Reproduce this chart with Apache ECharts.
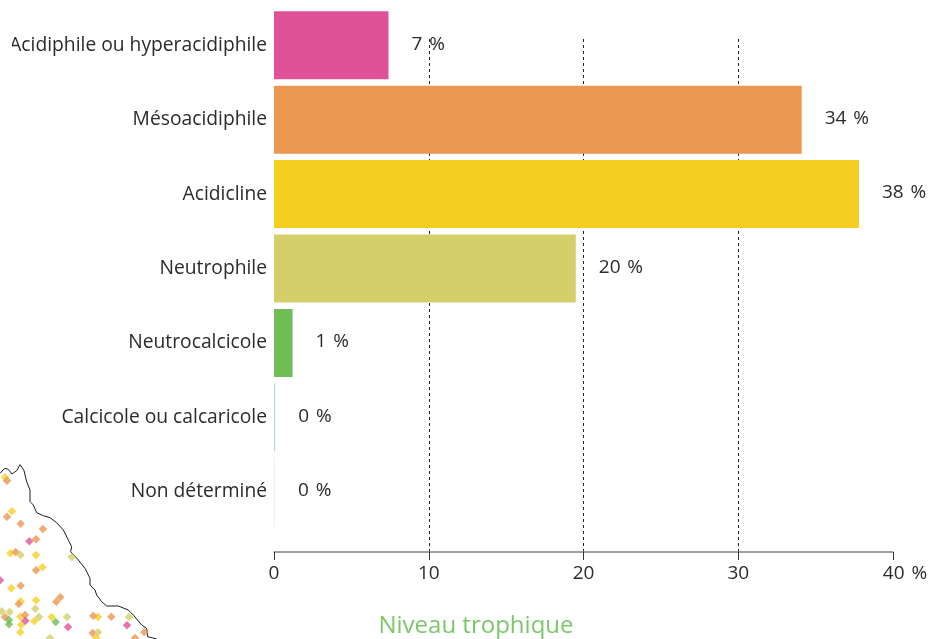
<!DOCTYPE html>
<html lang="fr">
<head>
<meta charset="utf-8">
<title>Niveau trophique</title>
<script src="https://cdn.jsdelivr.net/npm/echarts@6/dist/echarts.min.js"></script>
<style>html,body{margin:0;padding:0;background:#fff}#chart{width:944px;height:639px}</style>
</head>
<body>
<div id="chart"></div>
<script>
// Share of surveyed plots per soil-acidity class (%)
const categories = ['Acidiphile ou hyperacidiphile', 'Mésoacidiphile', 'Acidicline', 'Neutrophile', 'Neutrocalcicole', 'Calcicole ou calcaricole', 'Non déterminé'];
const shares = [7.4, 34.1, 37.8, 19.5, 1.2, 0.08, 0.06];
const classColors = ['#df5297', '#eb9751', '#f6ce21', '#d4cf6b', '#70bd55', '#b3e0d3', '#eef0f2'];

// Corner of the location map, in map units
const coastline = [[0,70],[14,55],[25,58],[36,72],[50,62],[60,44],[66,52],[72,62],[80,95],[90,120],[90,155],[100,165],[110,188],[130,197],[150,203],[170,218],[190,240],[205,270],[215,290],[212,305],[235,330],[255,355],[270,385],[270,405],[285,420],[290,435],[305,455],[320,468],[355,468],[385,480],[400,495],[425,525],[440,535],[443,560],[470,567]];
const plotsYellow = [[15,82],[36,184],[31,310],[108,315],[127,352],[34,415],[108,451],[62,454],[61,500],[155,501],[294,501],[64,524],[103,513],[61,547],[289,564],[-3,436]];
const plotsOrange = [[21,92],[21,200],[62,221],[129,237],[108,268],[47,306],[108,361],[62,407],[181,442],[169,455],[56,462],[15,501],[75,495],[280,497],[334,500],[278,549],[405,564],[433,547]];
const plotsPink = [[88,274],[0,391],[76,512],[204,531],[381,526]];
const plotsKhaki = [[62,315],[215,321],[106,476],[5,484],[29,486],[117,501],[201,501],[387,501],[294,547],[150,564]];
const plotsGreen = [[27,510],[27,523],[167,516]];

const textColor = '#2e2a2b';
const font = '"Open Sans", sans-serif';
const labelSize = 19;
const percentSign = '\u200a %';

const plotSeries = (data, color) => ({
  type: 'scatter', xAxisIndex: 2, yAxisIndex: 2, data,
  symbol: 'diamond', symbolSize: 8.5, itemStyle: { color }, silent: true, z: 3
});

const chart = echarts.init(document.getElementById('chart'), null, { renderer: 'canvas' });
chart.setOption({
  animation: false,
  backgroundColor: '#fff',
  textStyle: { fontFamily: font },
  title: {
    text: 'Niveau trophique', left: 471, top: 609, textAlign: 'center',
    textStyle: { color: '#7dc66a', fontSize: 24, fontWeight: 'normal', fontFamily: font }
  },
  grid: [
    { left: 274, top: 8, width: 619, height: 521 },
    { left: 274, top: 39, width: 619, height: 513 },
    { left: 0, top: 450, width: 300, height: 189 }
  ],
  xAxis: [
    { gridIndex: 0, type: 'value', min: 0, max: 40, interval: 10, show: false },
    {
      gridIndex: 1, type: 'value', min: 0, max: 40, interval: 10,
      axisLine: { show: true, lineStyle: { color: '#7f7f7f', width: 1.5 } },
      axisTick: { show: true, length: 8, lineStyle: { color: '#333', width: 1 } },
      axisLabel: {
        margin: 12, color: textColor, fontSize: labelSize,
        formatter: v => v === 40 ? '{last|40' + percentSign + '}' : String(v),
        rich: { last: { color: textColor, fontSize: labelSize, padding: [0, 0, 0, 24] } }
      },
      splitLine: { show: true, showMinLine: false, showMaxLine: false, lineStyle: { color: '#222', type: [3, 3], width: 1 } }
    },
    { gridIndex: 2, type: 'value', min: 0, max: 900, show: false }
  ],
  yAxis: [
    {
      gridIndex: 0, type: 'category', data: categories, inverse: true,
      axisLine: { show: false }, axisTick: { show: false },
      axisLabel: { margin: 7, color: textColor, fontSize: 19.25 }
    },
    { gridIndex: 1, type: 'value', min: 0, max: 1, show: false },
    { gridIndex: 2, type: 'value', min: 0, max: 567, inverse: true, show: false }
  ],
  series: [
    {
      type: 'bar', xAxisIndex: 0, yAxisIndex: 0, barWidth: 68, z: 2,
      data: shares.map((value, i) => ({ value, itemStyle: { color: classColors[i] } })),
      label: {
        show: true, position: 'right', distance: 23, offset: [0, -1],
        color: textColor, fontSize: labelSize,
        formatter: p => Math.round(p.value) + percentSign
      }
    },
    {
      type: 'line', xAxisIndex: 2, yAxisIndex: 2, data: coastline, showSymbol: false, silent: true,
      lineStyle: { color: '#1c1c1c', width: 1 }, z: 2
    },
    plotSeries(plotsYellow, '#f7cf22'),
    plotSeries(plotsOrange, '#ec9650'),
    plotSeries(plotsPink, '#e0529a'),
    plotSeries(plotsKhaki, '#d4cf6a'),
    plotSeries(plotsGreen, '#70bc55')
  ],
  graphic: [
    // Left page margin trims the longest class label
    { type: 'rect', z: 100, shape: { x: 0, y: 25, width: 12, height: 40 }, style: { fill: '#fff' } }
  ]
});
</script>
</body>
</html>
